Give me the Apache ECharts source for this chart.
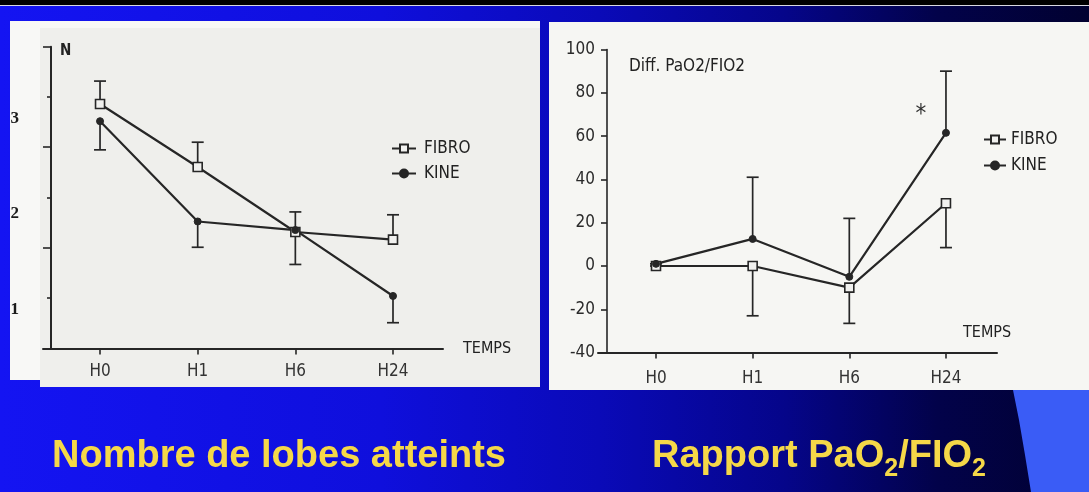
<!DOCTYPE html>
<html>
<head>
<meta charset="utf-8">
<script src="https://cdn.jsdelivr.net/npm/echarts@6/dist/echarts.min.js"></script>
<style>
html,body{margin:0;padding:0;background:#0b0bd0;overflow:hidden;}
#c{width:1089px;height:492px;}
</style>
</head>
<body>
<div id="c"></div>
<script>
// ---------- data ----------
const categories = ['H0', 'H1', 'H6', 'H24'];

// Left chart: Nombre de lobes atteints
const lobesFibro = [3.15, 2.49, 1.81, 1.73];
const lobesKine = [2.97, 1.92, 1.83, 1.14];
const lobesFibroErrTop = [3.39, 2.75, 2.02, 1.99];
const lobesKineErrBottom = [2.67, 1.65, 1.47, 0.86];
const lobesTickLabels = [1, 2, 3];
const lobesMajorTicks = [1.642, 2.70, 3.75];
const lobesMinorTicks = [1.118, 2.165, 3.226];

// Right chart: Rapport PaO2/FIO2
const pafiFibro = [0, 0, -10, 29];
const pafiKine = [1, 12.5, -5, 61.5];
const pafiKineErrTop = [1, 41, 22, 90];
const pafiFibroErrBottom = [0, -23, -26.5, 8.5];
const starPos = [2.74, 70];

// ---------- styling ----------
const ink = '#262626';
const chartFont = "'DejaVu Sans Condensed','Liberation Sans Narrow','Liberation Sans',sans-serif";
const yellow = '#F5D848';

function pts(arr) { return arr.map((v, i) => [i, v]); }

function errBars(name, xi, yi, values, ends) {
  return {
    type: 'custom', name: name, xAxisIndex: xi, yAxisIndex: yi, z: 2,
    encode: { x: 0, y: [1, 2] },
    data: values.map((v, i) => [i, v, ends[i]]),
    renderItem: function (params, api) {
      const x = api.value(0);
      const p1 = api.coord([x, api.value(1)]);
      const p2 = api.coord([x, api.value(2)]);
      const st = { stroke: ink, lineWidth: 1.7 };
      return {
        type: 'group',
        children: [
          { type: 'line', shape: { x1: p1[0], y1: p1[1], x2: p2[0], y2: p2[1] }, style: st },
          { type: 'line', shape: { x1: p2[0] - 6, y1: p2[1], x2: p2[0] + 6, y2: p2[1] }, style: st }
        ]
      };
    }
  };
}

function lineSeries(name, xi, yi, values, isFibro) {
  return {
    type: 'line', name: name, xAxisIndex: xi, yAxisIndex: yi, z: 4,
    data: pts(values),
    symbol: isFibro ? 'rect' : 'circle',
    symbolSize: isFibro ? 9 : 7,
    lineStyle: { color: ink, width: 2.2 },
    itemStyle: isFibro
      ? { color: '#f1f1ef', borderColor: ink, borderWidth: 1.6 }
      : { color: ink, borderColor: ink, borderWidth: 1 },
    emphasis: { disabled: true }
  };
}

function xAxisOpt(gridIndex, min, max, margin, nameGap, nameVAlign, nameLH) {
  return {
    type: 'value', gridIndex: gridIndex, min: min, max: max,
    axisLine: { show: true, onZero: false, lineStyle: { color: ink, width: 2 } },
    axisTick: { show: true, customValues: [0, 1, 2, 3], length: 6, lineStyle: { color: ink, width: 1.6 } },
    axisLabel: {
      customValues: [0, 1, 2, 3], formatter: v => categories[Math.round(v)],
      margin: margin, fontSize: 17, color: '#333', fontFamily: chartFont
    },
    splitLine: { show: false },
    name: 'TEMPS', nameLocation: 'end', nameGap: nameGap,
    nameTextStyle: { fontSize: 16, color: '#222', fontFamily: chartFont, verticalAlign: nameVAlign, align: 'left', lineHeight: nameLH }
  };
}

const chart = echarts.init(document.getElementById('c'), null, { renderer: 'canvas', width: 1089, height: 492 });

const option = {
  animation: false,
  backgroundColor: {
    type: 'linear', x: 0, y: 0, x2: 1, y2: 0,
    colorStops: [
      { offset: 0, color: '#1414f2' },
      { offset: 0.35, color: '#0f0fdc' },
      { offset: 0.55, color: '#0a0ab8' },
      { offset: 0.72, color: '#05058a' },
      { offset: 0.86, color: '#02024a' },
      { offset: 1, color: '#010130' }
    ]
  },
  graphic: [
    { type: 'rect', z: -5, shape: { x: 0, y: 0, width: 1089, height: 5 }, style: { fill: '#000' } },
    { type: 'rect', z: -5, shape: { x: 0, y: 5, width: 1089, height: 1 }, style: { fill: '#d8d8e0' } },
    { type: 'polygon', z: -5, shape: { points: [[1013, 390], [1019, 420], [1025, 455], [1031, 492], [1089, 492], [1089, 390]] }, style: { fill: '#3a5cf6' } },
    // left panel (frame + scan)
    { type: 'rect', z: -5, shape: { x: 10, y: 21, width: 530, height: 359 }, style: { fill: '#f8f8f6' } },
    { type: 'rect', z: -5, shape: { x: 40, y: 28, width: 500, height: 359 }, style: { fill: '#efefec' } },
    // right panel
    { type: 'rect', z: -5, shape: { x: 549, y: 22, width: 540, height: 368 }, style: { fill: '#f6f6f3' } },
    // captions
    {
      type: 'text', x: 52, y: 457,
      style: { text: 'Nombre de lobes atteints', font: "bold 38px 'Liberation Sans', Arial, sans-serif", fill: yellow, verticalAlign: 'middle', align: 'left' }
    },
    {
      type: 'text', x: 652, y: 457,
      style: {
        text: '{m|Rapport PaO}{s|2}{m|/FIO}{s|2}',
        verticalAlign: 'middle', align: 'left',
        rich: {
          m: { fontSize: 38, fontWeight: 'bold', fontFamily: "'Liberation Sans', Arial, sans-serif", fill: yellow, lineHeight: 50, verticalAlign: 'middle' },
          s: { fontSize: 25, fontWeight: 'bold', fontFamily: "'Liberation Sans', Arial, sans-serif", fill: yellow, lineHeight: 24, verticalAlign: 'bottom' }
        }
      }
    }
  ],
  grid: [
    { left: 43, top: 46.7, width: 400, height: 301.8 },
    { left: 598, top: 49.5, width: 399, height: 303.1 }
  ],
  xAxis: [
    xAxisOpt(0, -0.584, 3.512, 15, 20, 'middle', 16),
    xAxisOpt(1, -0.6, 3.528, 17, -34, 'bottom', 40)
  ],
  yAxis: [
    {
      type: 'value', gridIndex: 0, min: 0.59, max: 3.75, position: 'left', offset: -8,
      axisLine: { show: true, onZero: false, lineStyle: { color: ink, width: 2 } },
      axisTick: { show: true, customValues: lobesMajorTicks, length: 8, lineStyle: { color: ink, width: 1.6 } },
      axisLabel: { customValues: lobesTickLabels, margin: 32, fontSize: 17, fontWeight: 'bold', fontFamily: "'Liberation Serif', serif", color: '#1a1a1a' },
      splitLine: { show: false },
      name: 'N', nameLocation: 'end', nameGap: -4,
      nameTextStyle: { align: 'left', verticalAlign: 'middle', padding: [0, 0, 0, 9], fontSize: 15, fontWeight: 'bold', fontFamily: chartFont, color: '#222' }
    },
    {
      type: 'value', gridIndex: 0, min: 0.59, max: 3.75, position: 'left', offset: -8,
      axisLine: { show: false, onZero: false },
      axisTick: { show: true, customValues: lobesMinorTicks, length: 4, lineStyle: { color: ink, width: 1.6 } },
      axisLabel: { show: false },
      splitLine: { show: false }
    },
    {
      type: 'value', gridIndex: 1, min: -40, max: 100, interval: 20, position: 'left', offset: -9,
      axisLine: { show: true, onZero: false, lineStyle: { color: ink, width: 1.6 } },
      axisTick: { show: true, length: 6, lineStyle: { color: ink, width: 1.6 } },
      axisLabel: { margin: 12, fontSize: 17, color: '#2a2a2a', fontFamily: chartFont },
      splitLine: { show: false },
      name: 'Diff. PaO2/FIO2', nameLocation: 'end', nameGap: -17,
      nameTextStyle: { align: 'left', verticalAlign: 'middle', padding: [0, 0, 0, 22], fontSize: 17, fontFamily: chartFont, color: '#222' }
    }
  ],
  legend: [
    {
      left: 386, top: 135, orient: 'vertical', data: ['FIBRO', 'KINE'], selectedMode: false,
      itemWidth: 24, itemHeight: 10, itemGap: 8,
      textStyle: { fontSize: 17, color: '#222', fontFamily: chartFont, padding: [0, 0, 0, 3] }
    },
    {
      left: 978, top: 126, orient: 'vertical', data: ['FIBRO', 'KINE'], selectedMode: false,
      itemWidth: 22, itemHeight: 10, itemGap: 9,
      textStyle: { fontSize: 17, color: '#222', fontFamily: chartFont, padding: [0, 0, 0, 0] }
    }
  ],
  series: [
    errBars('errLobesFibro', 0, 0, lobesFibro, lobesFibroErrTop),
    errBars('errLobesKine', 0, 0, lobesKine, lobesKineErrBottom),
    lineSeries('FIBRO', 0, 0, lobesFibro, true),
    lineSeries('KINE', 0, 0, lobesKine, false),
    errBars('errPafiKine', 1, 2, pafiKine, pafiKineErrTop),
    errBars('errPafiFibro', 1, 2, pafiFibro, pafiFibroErrBottom),
    lineSeries('FIBRO', 1, 2, pafiFibro, true),
    lineSeries('KINE', 1, 2, pafiKine, false),
    {
      type: 'custom', name: 'star', xAxisIndex: 1, yAxisIndex: 2, z: 5,
      data: [starPos],
      renderItem: function (params, api) {
        const p = api.coord([api.value(0), api.value(1)]);
        return { type: 'text', x: p[0], y: p[1], style: { text: '*', fontSize: 24, fill: '#333', align: 'center', verticalAlign: 'middle', fontFamily: chartFont } };
      }
    }
  ]
};
chart.setOption(option);
</script>
</body>
</html>
